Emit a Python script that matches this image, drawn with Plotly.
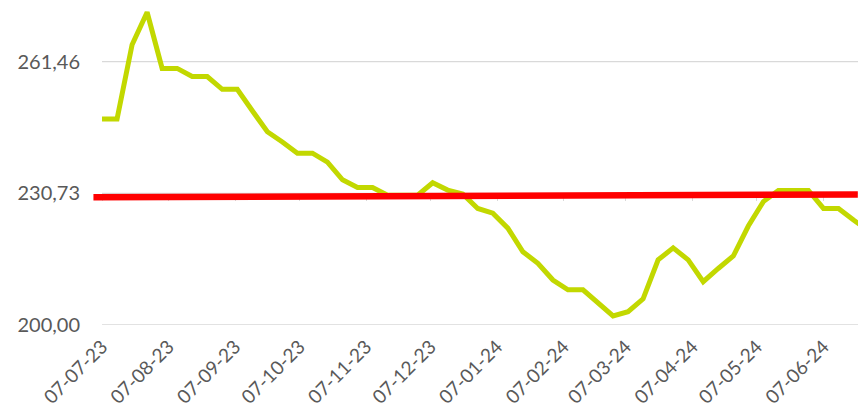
import pandas as pd
import plotly.graph_objects as go

# ---- data ----
start_date = "2023-07-07"
weekly_values = [
    248.1, 248.1, 265.4, 273.0, 259.9, 259.9, 258.0, 258.0, 255.0, 255.0,
    250.0, 245.1, 242.7, 240.1, 240.1, 238.0, 233.9, 232.1, 232.1, 230.3,
    230.3, 230.3, 233.2, 231.5, 230.6, 227.2, 226.1, 222.6, 217.1, 214.4,
    210.5, 208.2, 208.2, 205.1, 202.1, 203.1, 206.1, 215.2, 218.0, 215.2,
    210.1, 213.2, 216.1, 223.1, 228.8, 231.4, 231.4, 231.4, 227.2, 227.2,
    224.5, 222.0,
]
ref_dates = ["2023-07-03", "2024-06-23"]
ref_values = [229.8, 230.46]

tick_dates = ["2023-07-07", "2023-08-07", "2023-09-07", "2023-10-07", "2023-11-07",
              "2023-12-07", "2024-01-07", "2024-02-07", "2024-03-07", "2024-04-07",
              "2024-05-07", "2024-06-07"]
tick_labels = ["07-07-23", "07-08-23", "07-09-23", "07-10-23", "07-11-23", "07-12-23",
               "07-01-24", "07-02-24", "07-03-24", "07-04-24", "07-05-24", "07-06-24"]
y_ticks = [200.00, 230.73, 261.46]
y_tick_labels = ["200,00", "230,73", "261,46"]
y_range = [200.0, 275.86]
x_range = ["2023-07-02 19:12", "2024-06-23 02:00"]

dates = pd.date_range(start_date, periods=len(weekly_values), freq="7D")

fig = go.Figure()

# gridlines (start at first data date)
for yv in y_ticks:
    fig.add_shape(type="line", xref="x", yref="y",
                  x0=dates[0], x1=x_range[1], y0=yv, y1=yv,
                  line=dict(color="#d9d9d9", width=1.3), layer="below")

fig.add_trace(go.Scatter(x=list(dates), y=weekly_values, mode="lines",
                         line=dict(color="#C2D800", width=5, shape="linear"),
                         showlegend=False, hoverinfo="skip"))
fig.add_trace(go.Scatter(x=pd.to_datetime(ref_dates), y=ref_values, mode="lines",
                         line=dict(color="#FF0000", width=6.5),
                         showlegend=False, hoverinfo="skip"))

cross_pos = (y_ticks[1] - y_range[0]) / (y_range[1] - y_range[0])

fig.update_layout(
    width=858, height=418,
    margin=dict(l=93, r=0, t=0, b=93),
    paper_bgcolor="white", plot_bgcolor="white",
    font=dict(family="Lato, 'Open Sans', sans-serif", color="#595959"),
    xaxis=dict(type="date", range=x_range, tickvals=pd.to_datetime(tick_dates),
               ticktext=tick_labels, tickangle=-45, showgrid=False, zeroline=False,
               showline=False, ticks="", tickfont=dict(size=19, color="#595959"),
               ticklabelstandoff=6, automargin=False),
    xaxis2=dict(type="date", range=x_range, overlaying="x", anchor="free",
                position=cross_pos, side="bottom", tickvals=pd.to_datetime(tick_dates),
                showticklabels=False, ticks="outside", ticklen=7, tickcolor="#d9d9d9",
                showgrid=False, zeroline=False, showline=False, automargin=False,
                layer="below traces"),
    yaxis=dict(range=y_range, tickvals=y_ticks, ticktext=y_tick_labels, showgrid=False,
               zeroline=False, showline=False, ticks="",
               tickfont=dict(size=20, color="#595959"), ticklabelstandoff=12,
               automargin=False),
)
# dummy invisible trace to activate xaxis2
fig.add_trace(go.Scatter(x=[dates[0]], y=[y_ticks[0]], xaxis="x2", mode="lines",
                         line=dict(width=0), showlegend=False, hoverinfo="skip"))

fig.write_html("out.html", config={"displayModeBar": False},
               post_script="document.body.style.margin='0';document.body.style.overflow='hidden';")
